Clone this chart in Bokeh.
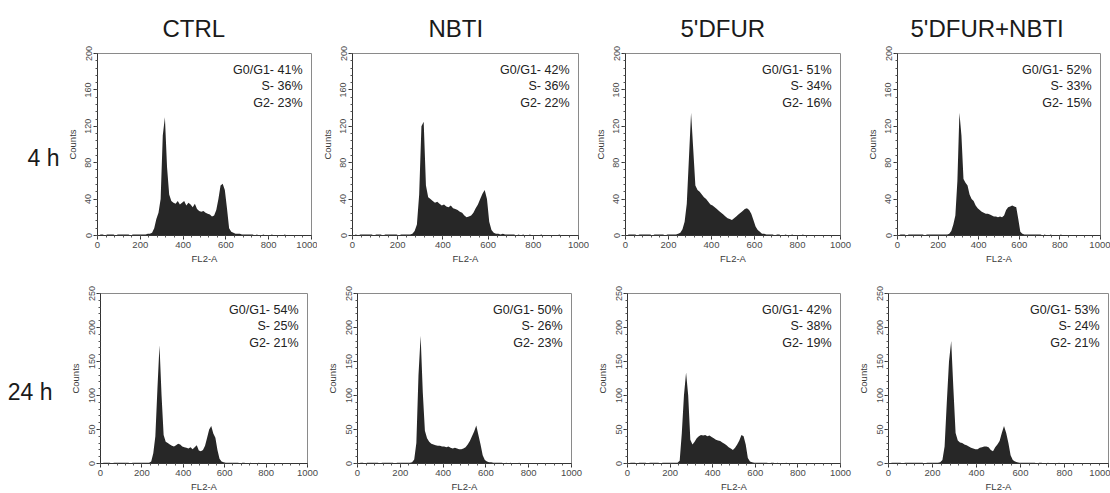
from bokeh.plotting import figure
from bokeh.layouts import column, row
from bokeh.models import FixedTicker, LinearAxis, Range1d, ColumnDataSource
from bokeh.core.properties import value
from bokeh.embed import file_html
from bokeh.resources import INLINE

# ---------------- data ----------------
# FL2-A channel bin centres (10-channel bins)
channels = list(range(5, 1000, 10))

ctrl_4h = [0,1,1,0,1, 1,1,1,0,1, 1,1,1,1,1, 0,1,1,1,1, 1,1,1,2,2,
           3,8,18,25,40, 110,130,75,45,38, 36,35,38,34,36, 38,33,36,34,31,
           35,29,27,26,27, 25,24,23,21,22, 28,40,55,57,50, 30,8,4,3,2,
           2,2,1,1,1, 1,1,1,0,1, 0,0,1,0,0, 0,1,0,0,0, 0,0,1,0,0, 0,0,0,0,0, 0,0,0,0,0]
nbti_4h = [0,1,0,1,1, 1,1,1,1,0, 1,1,1,0,1, 1,1,1,1,1, 0,1,1,1,1,
           1,2,5,12,45, 120,125,55,42,40, 38,36,37,35,33, 34,32,31,33,30,
           29,28,26,25,22, 20,21,22,25,30, 34,40,46,50,40, 15,6,3,2,2,
           1,2,1,1,1, 1,1,0,1,0, 1,0,0,1,0, 0,0,0,1,0, 0,0,0,0,0, 0,1,0,0,0, 0,0,0,0,0]
dfur_4h = [0,1,1,1,1, 0,1,1,1,1, 1,1,0,1,1, 1,1,1,0,1, 1,1,1,1,2,
           3,7,15,35,85, 135,95,55,50,48, 45,42,40,37,34, 33,31,29,27,25,
           23,21,19,18,17, 19,21,23,25,27, 29,30,28,24,17, 10,6,4,2,2,
           1,1,1,1,0, 1,1,0,0,1, 0,0,1,0,0, 0,0,1,0,0, 0,0,0,0,0, 0,0,0,0,0, 0,0,0,0,0]
combo_4h = [0,1,1,1,0, 1,1,1,1,1, 1,1,1,0,1, 1,1,1,1,1, 1,1,1,1,1,
            2,5,12,22,60, 135,110,62,58,55, 45,40,38,33,30, 28,26,25,24,24,
            23,22,21,21,20, 21,20,22,28,31, 32,33,32,31,18, 4,2,1,1,1,
            1,1,1,1,1, 1,0,1,0,0, 1,0,0,0,0, 1,0,0,0,0, 0,0,0,0,0, 0,0,0,0,0, 0,0,0,0,0]
ctrl_24h = [0,1,1,1,1, 0,1,1,1,1, 1,1,1,1,0, 1,1,1,1,1, 1,1,1,1,
            3,15,40,110,174, 100,42,32,30,28, 26,25,27,29,28, 25,24,23,22,24,
            21,24,27,19,18, 20,26,38,50,55, 44,38,20,7,3, 2,1,1,1,1,
            1,1,1,0,1, 1,0,0,1,0, 0,0,1,0,0, 0,0,0,0,0, 0,0,0,0,0, 0,0,0,0,0, 0,0,0,0,0, 0]
nbti_24h = [0,1,1,0,1, 1,1,1,1,1, 0,1,1,1,1, 1,1,0,1,1, 1,1,1,1,
            1,2,6,30,130, 188,105,48,37,32, 29,28,27,26,26, 25,25,24,25,23,
            22,23,22,21,21, 22,24,28,33,40, 47,56,42,28,12, 5,3,2,2,1,
            1,1,1,1,0, 1,0,1,0,0, 0,1,0,0,0, 0,0,0,0,0, 0,0,0,0,0, 0,0,0,0,0, 0,0,0,0,0, 0]
dfur_24h = [0,1,1,1,0, 1,1,1,1,0, 1,1,1,1,1, 0,1,1,1,1, 1,1,1,1,
            4,45,100,134,100, 35,28,32,37,40, 42,41,42,40,41, 39,37,35,34,33,
            31,29,27,24,22, 20,23,28,34,42, 40,28,8,3,2, 1,1,1,1,1,
            1,1,0,1,1, 0,1,0,0,0, 1,0,0,0,0, 0,0,0,0,0, 0,0,0,0,0, 0,0,0,0,0, 0,0,0,0,0, 0]
combo_24h = [0,1,1,1,1, 1,0,1,1,1, 1,1,1,1,1, 1,0,1,1,1, 1,1,1,2,
             5,25,90,150,180, 110,45,34,31,30, 28,27,25,23,22, 21,21,23,24,25,
             25,24,20,18,24, 28,33,45,55,45, 30,12,5,3,2, 1,1,1,1,1,
             1,1,1,0,1, 1,0,0,1,0, 0,0,0,1,0, 0,0,0,0,0, 0,0,0,0,0, 0,0,0,0,0, 0,0,0,0,0, 0]

titles = ["CTRL", "NBTI", "5'DFUR", "5'DFUR+NBTI"]
times = ["4 h", "24 h"]
hist = [[ctrl_4h, nbti_4h, dfur_4h, combo_4h],
        [ctrl_24h, nbti_24h, dfur_24h, combo_24h]]
g1_pct = [[41, 42, 51, 52], [54, 50, 42, 53]]
s_pct = [[36, 36, 34, 33], [25, 26, 38, 24]]
g2_pct = [[23, 22, 16, 15], [21, 23, 19, 21]]
y_max = [200, 250]
y_ticks = [[0, 40, 80, 120, 160, 200], [0, 50, 100, 150, 200, 250]]
y_minor_step = [8, 10]
x_ticks = [0, 200, 400, 600, 800, 1000]

# ---------------- layout / style ----------------
FONT = "Liberation Sans"
FILL = "#272727"
# (left border, frame width, right border)
col_specs = [[(97, 214, 6), (35, 226, 11), (36, 215, 21), (36, 203, 10)],
             [(100, 207, 13), (37, 214, 20), (36, 213, 14), (34, 220, 2)]]
# (top border, frame height, bottom border)
row_specs = [(52, 182, 36), (22, 170, 31)]
row_label_standoff = [4, 14]
title_offsets = [65, 76, 55, 13]


def make_panel(r, c):
    lb, fw, rb = col_specs[r][c]
    tb, fh, bb = row_specs[r]
    ymax = y_max[r]
    p = figure(frame_width=fw, frame_height=fh,
               min_border_left=lb, min_border_right=rb,
               min_border_top=tb, min_border_bottom=bb,
               x_range=Range1d(0, 1000), y_range=Range1d(0, ymax),
               output_backend="svg", toolbar_location=None, tools="")
    p.background_fill_color = "white"
    p.border_fill_color = "white"
    p.outline_line_color = "#8a8a8a"
    p.outline_line_width = 1
    p.xgrid.visible = False
    p.ygrid.visible = False

    src = ColumnDataSource(dict(x=channels, y=hist[r][c]))
    p.varea(x="x", y1=0, y2="y", source=src, fill_color=FILL)

    # axes
    for ax in (p.xaxis[0], p.yaxis[0]):
        ax.axis_line_color = "#333333"
        ax.major_tick_line_color = "#333333"
        ax.minor_tick_line_color = "#555555"
        ax.major_tick_in = 0
        ax.major_tick_out = 4
        ax.minor_tick_in = 0
        ax.minor_tick_out = 2
        ax.major_label_text_font = FONT
        ax.major_label_text_color = "#4a4a4a"
        ax.axis_label_text_font = FONT
        ax.axis_label_text_font_style = "normal"
        ax.axis_label_text_color = "#3a3a3a"
        ax.axis_label_text_font_size = "9.5px"
        ax.axis_label_standoff = 2
        ax.major_label_standoff = 2

    p.xaxis.ticker = FixedTicker(ticks=x_ticks, minor_ticks=list(range(0, 1001, 40)))
    p.xaxis.major_label_text_font_size = "9.5px"
    p.xaxis.axis_label = "FL2-A"
    p.yaxis.ticker = FixedTicker(ticks=y_ticks[r],
                                 minor_ticks=list(range(0, ymax + 1, y_minor_step[r])))
    p.yaxis.major_label_text_font_size = "9px"
    p.yaxis.major_label_orientation = "vertical"
    p.yaxis.axis_label = "Counts"
    p.yaxis.axis_label_standoff = 5

    # phase annotation
    txt = f"G0/G1- {g1_pct[r][c]}%\nS- {s_pct[r][c]}%\nG2- {g2_pct[r][c]}%"
    p.text(x=[1000], y=[ymax], text=[txt], text_align="right", text_baseline="top",
           x_offset=-9, y_offset=9, text_font=value(FONT), text_font_size="12.5px",
           text_color="#222222", text_line_height=1.2)

    if r == 0:
        p.title.text = titles[c]
        p.title.text_font = FONT
        p.title.text_font_size = "24px"
        p.title.text_font_style = "normal"
        p.title.text_color = "#1a1a1a"
        p.title.align = "left"
        p.title.offset = title_offsets[c]
        p.title.standoff = 24

    if c == 0:
        ra = LinearAxis(axis_label="\n" + times[r], ticker=FixedTicker(ticks=[]),
                        axis_line_color=None, major_tick_line_color=None,
                        minor_tick_line_color=None, major_label_text_font_size="0px",
                        axis_label_text_font=FONT, axis_label_text_font_size="23px",
                        axis_label_text_font_style="normal", axis_label_text_color="#1a1a1a",
                        axis_label_orientation="horizontal",
                        axis_label_text_line_height=1.0,
                        axis_label_standoff=row_label_standoff[r])
        p.add_layout(ra, "left")
    return p


rows = []
for r in range(2):
    rows.append(row(*[make_panel(r, c) for c in range(4)], spacing=0))
layout = column(*rows, spacing=0)

open("out.html", "w").write(file_html(layout, INLINE))
